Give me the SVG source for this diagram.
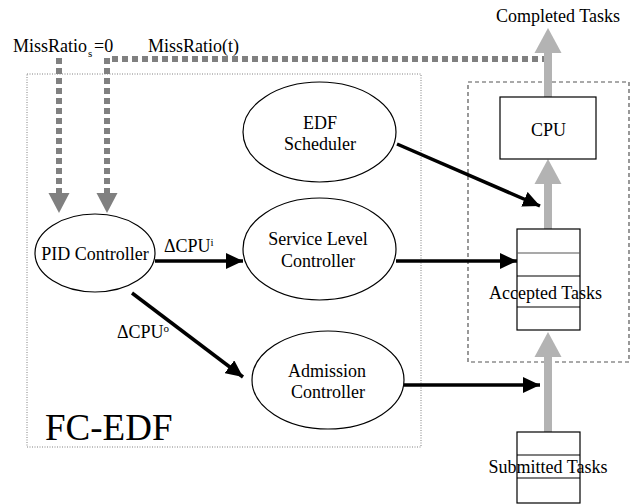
<svg xmlns="http://www.w3.org/2000/svg" width="632" height="504" viewBox="0 0 632 504" font-family="'Liberation Serif', 'DejaVu Serif', 'Times New Roman', Times, serif">
<defs>
<style>
text{font-family:'Liberation Serif','DejaVu Serif','Times New Roman',Times,serif;font-size:18px;fill:#000}
.c{text-anchor:middle}
.node{fill:#fff;stroke:#000;stroke-width:1.2}
.blk{stroke:#000;stroke-width:3.5;fill:none}
.gray{stroke:#b3b3b3;stroke-width:8;fill:none}
.dot{stroke:#808080;stroke-width:6;stroke-dasharray:6 4;fill:none}
.sub{font-size:11px}
.big{font-size:37px}
</style>
<marker id="ah" markerUnits="userSpaceOnUse" markerWidth="18" markerHeight="16" refX="17" refY="8" orient="auto">
<path d="M0,0 L17,8 L0,16 Z" fill="#000"/>
</marker>
</defs>
<rect x="0" y="0" width="632" height="504" fill="#fff"/>

<g id="fc-edf-box">
<rect x="27" y="74" width="394" height="373" fill="none" stroke="#808080" stroke-width="1" stroke-dasharray="1 1.5"/>
<text x="45" y="440" class="big">FC-EDF</text>
</g>

<g id="cpu-box">
<rect x="468" y="82" width="161" height="280" fill="none" stroke="#555" stroke-width="1.2" stroke-dasharray="4 3"/>
</g>

<g id="connectors">
<line class="dot" x1="59" y1="58" x2="59" y2="193"/>
<line class="dot" x1="107" y1="58" x2="107" y2="193"/>
<line class="dot" x1="112" y1="59" x2="544" y2="59"/>
<path d="M48.5,193 L69.5,193 L59,213 Z" fill="#808080"/>
<path d="M96.5,193 L117.5,193 L107,213 Z" fill="#808080"/>
<line class="gray" x1="548" y1="52" x2="548" y2="97"/>
<path d="M534.5,53 L561.5,53 L548,28 Z" fill="#b3b3b3"/>
<line class="gray" x1="548" y1="183" x2="548" y2="229"/>
<path d="M534.5,184 L561.5,184 L548,159 Z" fill="#b3b3b3"/>
<line class="gray" x1="548" y1="356" x2="548" y2="432"/>
<path d="M534.5,357 L561.5,357 L548,332 Z" fill="#b3b3b3"/>
<line class="blk" x1="155" y1="261" x2="243" y2="261" marker-end="url(#ah)"/>
<line class="blk" x1="132" y1="293" x2="243" y2="377" marker-end="url(#ah)"/>
<line class="blk" x1="397" y1="144" x2="540" y2="206" marker-end="url(#ah)"/>
<line class="blk" x1="396" y1="261" x2="517" y2="261" marker-end="url(#ah)"/>
<line class="blk" x1="404" y1="385" x2="540" y2="385" marker-end="url(#ah)"/>
</g>

<g id="labels">
<text x="13" y="52">MissRatio</text>
<text x="88" y="57" class="sub">s</text>
<text x="94" y="52">=0</text>
<text x="148" y="52">MissRatio(t)</text>
<text x="558" y="22" class="c">Completed Tasks</text>
<text x="164" y="252">ΔCPU<tspan class="sub" dy="-6">i</tspan></text>
<text x="117" y="338">ΔCPU<tspan class="sub" dy="-6">o</tspan></text>
</g>

<g id="pid">
<ellipse class="node" cx="95" cy="253" rx="60" ry="39"/>
<text x="95" y="260" class="c">PID Controller</text>
</g>

<g id="edf">
<ellipse class="node" cx="319.5" cy="132" rx="76.5" ry="50"/>
<text x="320" y="129" class="c">EDF</text>
<text x="320" y="150" class="c">Scheduler</text>
</g>

<g id="slc">
<ellipse class="node" cx="319.5" cy="249" rx="76.5" ry="51"/>
<text x="318" y="245" class="c">Service Level</text>
<text x="318" y="267" class="c">Controller</text>
</g>

<g id="adm">
<ellipse class="node" cx="328" cy="380" rx="76" ry="49"/>
<text x="327" y="377" class="c">Admission</text>
<text x="328" y="398" class="c">Controller</text>
</g>

<g id="cpu">
<rect class="node" x="500" y="97" width="96" height="62"/>
<text x="548.5" y="136" class="c">CPU</text>
</g>

<g id="accepted">
<rect class="node" x="517" y="229" width="63" height="101"/>
<line x1="517" y1="253" x2="580" y2="253" stroke="#555" stroke-width="1.2"/>
<line x1="517" y1="276" x2="580" y2="276" stroke="#000" stroke-width="1.2"/>
<line x1="517" y1="307" x2="580" y2="307" stroke="#000" stroke-width="1.2"/>
<text x="545.5" y="299" class="c">Accepted Tasks</text>
</g>

<g id="submitted">
<rect class="node" x="517" y="432" width="63" height="71"/>
<line x1="517" y1="455" x2="580" y2="455" stroke="#000" stroke-width="1.2"/>
<line x1="517" y1="478" x2="580" y2="478" stroke="#000" stroke-width="1.2"/>
<text x="548" y="473" class="c">Submitted Tasks</text>
</g>
</svg>
